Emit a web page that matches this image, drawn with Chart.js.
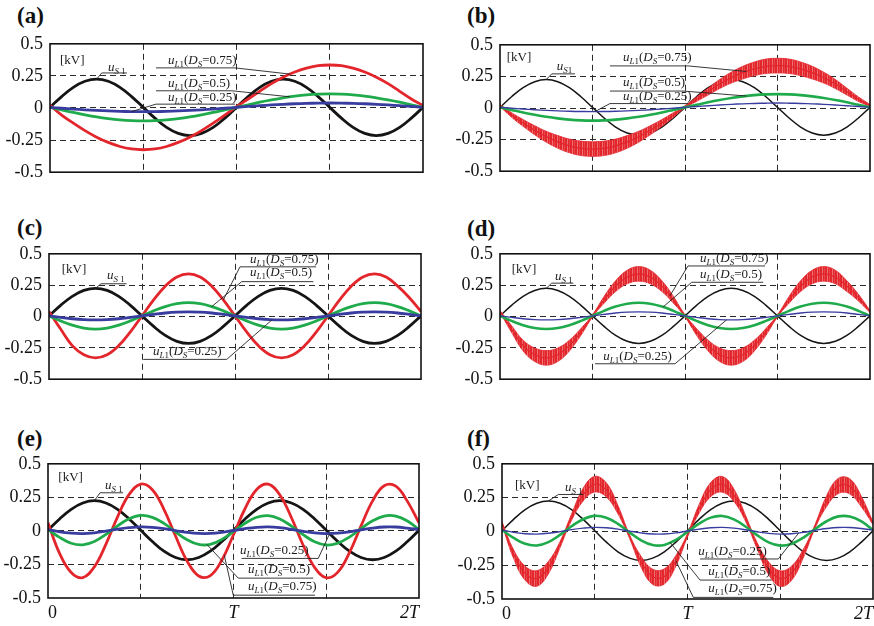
<!DOCTYPE html>
<html>
<head>
<meta charset="utf-8">
<script src="https://cdn.jsdelivr.net/npm/chart.js@4.4.0/dist/chart.umd.min.js"></script>
<style>
html, body { margin: 0; padding: 0; background: #fff; width: 874px; height: 626px; overflow: hidden; position: relative; }
canvas { position: absolute; }
.plabel { position: absolute; font: bold 23px "Liberation Serif", "Times New Roman", serif; line-height: 23px; color: #111; }
</style>
</head>
<body>
<div class="plabel" style="left:17px;top:4px">(a)</div>
<div class="plabel" style="left:467px;top:4px">(b)</div>
<div class="plabel" style="left:17px;top:216px">(c)</div>
<div class="plabel" style="left:467px;top:217px">(d)</div>
<div class="plabel" style="left:17px;top:427px">(e)</div>
<div class="plabel" style="left:467px;top:427px">(f)</div>

<script>
// time axis in steps of T/16, 0 .. 2T
const tK = [0,1,2,3,4,5,6,7,8,9,10,11,12,13,14,15,16,17,18,19,20,21,22,23,24,25,26,27,28,29,30,31,32];
const xTickValues = [0, 8, 16, 24, 32];
const xTickLabels = ['0', '', 'T', '', '2T'];
const yTickValues = [-0.5, -0.25, 0, 0.25, 0.5];
const yTickLabels = ['-0.5', '-0.25', '0', '0.25', '0.5'];

// source voltage u_S1 [kV], same in every panel
const uS1 = [.005,.089,.161,.208,.225,.208,.161,.089,.005,-.079,-.151,-.198,-.215,-.198,-.151,-.079,
             .005,.089,.161,.208,.225,.208,.161,.089,.005,-.079,-.151,-.198,-.215,-.198,-.151,-.079,.005];

// (a),(b): load voltage at half the source frequency
const redA   = [.02,-.055,-.118,-.176,-.227,-.268,-.300,-.319,-.325,-.319,-.300,-.268,-.227,-.176,-.118,-.055,.01,
                .07,.13,.19,.24,.28,.31,.33,.335,.33,.31,.28,.24,.19,.13,.07,.02];
const greenA = [.005,-.015,-.035,-.053,-.069,-.082,-.092,-.098,-.100,-.098,-.092,-.082,-.069,-.053,-.035,-.015,.005,
                .025,.045,.063,.079,.092,.102,.108,.110,.108,.102,.092,.079,.063,.045,.025,.005];
const blueA  = [.005,-.002,-.008,-.014,-.019,-.023,-.026,-.028,-.029,-.028,-.026,-.023,-.019,-.014,-.008,-.002,.005,
                .012,.018,.024,.029,.033,.036,.038,.039,.038,.036,.033,.029,.024,.018,.012,.005];
const rippleA = [.008,.018,.027,.036,.043,.050,.054,.057,.058,.057,.054,.050,.043,.036,.027,.018,.008,
                 .018,.027,.036,.043,.050,.054,.057,.058,.057,.054,.050,.043,.036,.027,.018,.008];

// (c),(d): load voltage at the source frequency
const redC   = [.04,-.10,-.232,-.305,-.330,-.305,-.232,-.123,.005,.133,.242,.315,.340,.315,.242,.133,.005,
                -.123,-.232,-.305,-.330,-.305,-.232,-.123,.005,.133,.242,.315,.340,.315,.242,.15,.04];
const greenC = [.005,-.035,-.069,-.092,-.100,-.092,-.069,-.035,.005,.045,.079,.102,.110,.102,.079,.045,.005,
                -.035,-.069,-.092,-.100,-.092,-.069,-.035,.005,.045,.079,.102,.110,.102,.079,.045,.005];
const blueC  = [.005,-.007,-.018,-.025,-.027,-.025,-.018,-.007,.005,.017,.028,.035,.037,.035,.028,.017,.005,
                -.007,-.018,-.025,-.027,-.025,-.018,-.007,.005,.017,.028,.035,.037,.035,.028,.017,.005];
const rippleC = [.008,.027,.043,.054,.058,.054,.043,.027,.008,.027,.043,.054,.058,.054,.043,.027,.008,
                 .027,.043,.054,.058,.054,.043,.027,.008,.027,.043,.054,.058,.054,.043,.027,.008];

// (e),(f): load voltage at 1.5x the source frequency
const redE   = [.06,-.168,-.310,-.348,-.268,-.099,.105,.272,.349,.307,.161,-.038,-.225,-.336,-.333,-.217,-.029,
                .167,.309,.348,.268,.098,-.105,-.273,-.349,-.307,-.162,.037,.224,.336,.333,.220,.06];
const greenE = [.01,-.048,-.092,-.104,-.079,-.026,.038,.090,.115,.101,.056,-.007,-.066,-.101,-.100,-.063,-.004,
                .057,.102,.114,.089,.036,-.028,-.081,-.105,-.091,-.046,.017,.075,.111,.110,.074,.01];
const blueE  = [.01,-.007,-.017,-.020,-.014,-.002,.013,.024,.030,.027,.017,.002,-.011,-.019,-.019,-.011,.003,
                .017,.027,.030,.024,.012,-.003,-.015,-.020,-.017,-.007,.008,.021,.029,.029,.021,.01];
const rippleE = [.01,.032,.052,.058,.046,.022,.023,.047,.058,.052,.031,.013,.040,.056,.056,.039,.012,
                 .032,.052,.058,.046,.022,.023,.047,.058,.052,.031,.013,.040,.056,.056,.039,.01];

const RED = '#e3262c', GREEN = '#1fab4b', BLUE = '#383c9e', BLACK = '#151515';
const SERIF = '"Liberation Serif", "Times New Roman", serif';

// label text pieces: [text, style] where style i=italic, s=subscript, si=italic subscript
const KV = [['[kV]', '']];
const US1 = [['u', 'i'], ['S', 'si'], [' 1', 's']];
const US1b = [['u', 'i'], ['S', 'si'], ['1', 's']];
function UL(d) { return [['u', 'i'], ['L', 'si'], ['1', 's'], ['(', ''], ['D', 'i'], ['S', 'si'], ['=' + d + ')', '']]; }

// annotation layout (data coords): text at x,y; underline [k1,k2,v]; leader from L/R end to a curve at k
const notesA = [
    {segs: KV, x: .86, y: .34},
    {segs: US1, x: 4.98, y: .288, line: [4.44, 6.6, .273], lead: ['L', 'black', 4]},
    {segs: UL('0.75'), x: 10.12, y: .342, line: [9.09, 15.87, .3125], lead: ['R', 'red', 20.6]},
    {segs: UL('0.5'), x: 10.12, y: .162, line: [9.09, 15.61, .134], lead: ['R', 'green', 20.6]},
    {segs: UL('0.25'), x: 10.12, y: .053, line: [9.09, 15.87, .030], lead: ['L', 'blue', 7]},
];
const notesB = [
    {segs: KV, x: .58, y: .37},
    {segs: US1b, x: 4.9, y: .30, line: [4.47, 6.49, .27], lead: ['L', 'black', 4]},
    {segs: UL('0.75'), x: 10.64, y: .375, line: [9.51, 16.26, .333], lead: ['R', 'red', 21.3]},
    {segs: UL('0.5'), x: 10.64, y: .176, line: [9.51, 15.83, .134], lead: ['R', 'green', 21.3]},
    {segs: UL('0.25'), x: 10.64, y: .062, line: [9.51, 16.26, .035], lead: ['L', 'blue', 8.2]},
];
const notesC = [
    {segs: KV, x: 1.09, y: .348},
    {segs: US1, x: 4.99, y: .30, line: [4.47, 6.68, .261], lead: ['L', 'black', 4]},
    {segs: UL('0.75'), x: 17.29, y: .427, line: [16.43, 22.97, .396], lead: ['L', 'red', 15]},
    {segs: UL('0.5'), x: 17.29, y: .32, line: [16.58, 22.74, .278], lead: ['L', 'green', 14]},
    {segs: UL('0.25'), x: 8.95, y: -.306, line: [8.11, 15.29, -.342], lead: ['R', 'blue', 19.2]},
];
const notesD = [
    {segs: KV, x: 1.01, y: .348},
    {segs: US1, x: 4.76, y: .294, line: [4.47, 6.34, .266], lead: ['L', 'black', 4]},
    {segs: UL('0.75'), x: 17.3, y: .436, line: [16.26, 22.92, .403], lead: ['L', 'red', 14.7]},
    {segs: UL('0.5'), x: 17.3, y: .309, line: [16.58, 22.77, .273], lead: ['L', 'green', 14.1]},
    {segs: UL('0.25'), x: 8.93, y: -.344, line: [8.22, 15.14, -.377], lead: ['R', 'blue', 19.6]},
];
const notesE = [
    {segs: KV, x: .89, y: .371},
    {segs: US1, x: 4.92, y: .311, line: [4.49, 6.47, .284], lead: ['L', 'black', 4]},
    {segs: UL('0.25'), x: 16.56, y: -.171, line: [16.7, 23.31, -.205], lead: ['R', 'blue', 24.3]},
    {segs: UL('0.5'), x: 17.25, y: -.314, line: [16.41, 22.88, -.352], lead: ['L', 'green', 13.7]},
    {segs: UL('0.75'), x: 17.25, y: -.443, line: [15.98, 23.03, -.479], lead: ['L', 'red', 15.2]},
];
const notesF = [
    {segs: KV, x: 1.12, y: .312},
    {segs: US1, x: 5.43, y: .301, line: [4.86, 7.01, .273], lead: ['L', 'black', 4]},
    {segs: UL('0.25'), x: 16.93, y: -.176, line: [17.08, 23.83, -.204], lead: ['R', 'blue', 25.6]},
    {segs: UL('0.5'), x: 17.79, y: -.323, line: [17.08, 23.26, -.36], lead: ['L', 'green', 14.5]},
    {segs: UL('0.75'), x: 17.79, y: -.45, line: [16.5, 23.4, -.488], lead: ['L', 'red', 15]},
];

const famA = {black: uS1, red: redA, green: greenA, blue: blueA, ripple: rippleA};
const famC = {black: uS1, red: redC, green: greenC, blue: blueC, ripple: rippleC};
const famE = {black: uS1, red: redE, green: greenE, blue: blueE, ripple: rippleE};

// plot boxes on the page: [left, top, right, bottom]
const panels = [
    {box: [50, 38, 423, 182], fam: famA, noisy: false, xt: false, notes: notesA},
    {box: [500, 39, 870, 181], fam: famA, noisy: true, xt: false, notes: notesB},
    {box: [49, 248, 421, 389], fam: famC, noisy: false, xt: false, notes: notesC},
    {box: [500, 248, 870, 389], fam: famC, noisy: true, xt: false, notes: notesD},
    {box: [48, 458, 419, 598], fam: famE, noisy: false, xt: true, notes: notesE},
    {box: [502, 458, 873, 599], fam: famE, noisy: true, xt: true, notes: notesF},
];

// dense striped fill for the switching ripple band
function ripplePattern() {
    let pc = document.createElement('canvas');
    pc.width = 5; pc.height = 1;
    let c = pc.getContext('2d');
    c.fillStyle = RED; c.fillRect(0, 0, 5, 1);
    c.fillStyle = 'rgba(255,255,255,0.35)'; c.fillRect(2, 0, 1, 1);
    c.fillStyle = 'rgba(255,255,255,0.15)'; c.fillRect(4, 0, 1, 1);
    return c.createPattern(pc, 'repeat');
}

function pts(arr) {
    return tK.map((k, i) => ({x: k, y: arr[i]}));
}

function lineDs(arr, color, w) {
    return {data: pts(arr), borderColor: color, borderWidth: w, pointRadius: 0, tension: 0.4, fill: false};
}

function interp(arr, k) {
    let i = Math.floor(k);
    let f = k - i;
    let j = Math.min(i + 1, arr.length - 1);
    return arr[i] * (1 - f) + arr[j] * f;
}

function drawRich(ctx, segs, x, y) {
    for (let i = 0; i < segs.length; i++) {
        let txt = segs[i][0], st = segs[i][1];
        let sub = st.indexOf('s') >= 0;
        let ital = st.indexOf('i') >= 0;
        ctx.font = (ital ? 'italic ' : '') + (sub ? '9px ' : '13px ') + SERIF;
        ctx.fillText(txt, x, sub ? y + 3 : y);
        x += ctx.measureText(txt).width;
    }
    return x;
}

// box frame + text labels with leader lines
function notesPlugin(panel) {
    return {
        id: 'notes',
        afterDatasetsDraw(chart) {
            let ctx = chart.ctx;
            let a = chart.chartArea;
            let xs = chart.scales.x, ys = chart.scales.y;
            ctx.save();
            ctx.strokeStyle = '#111';
            ctx.lineWidth = 1.6;
            ctx.strokeRect(a.left, a.top, a.right - a.left, a.bottom - a.top);
            ctx.fillStyle = '#1a1a1a';
            ctx.textBaseline = 'alphabetic';
            ctx.textAlign = 'left';
            panel.notes.forEach(function(n) {
                drawRich(ctx, n.segs, xs.getPixelForValue(n.x), ys.getPixelForValue(n.y));
                if (n.line) {
                    let x1 = xs.getPixelForValue(n.line[0]);
                    let x2 = xs.getPixelForValue(n.line[1]);
                    let yl = ys.getPixelForValue(n.line[2]);
                    let arr = panel.fam[n.lead[1]];
                    let xe = xs.getPixelForValue(n.lead[2]);
                    let ye = ys.getPixelForValue(interp(arr, n.lead[2]));
                    let xs0 = n.lead[0] == 'L' ? x1 : x2;
                    ctx.strokeStyle = '#222';
                    ctx.lineWidth = 0.9;
                    ctx.beginPath();
                    ctx.moveTo(x1, yl); ctx.lineTo(x2, yl);
                    ctx.moveTo(xs0, yl); ctx.lineTo(xe, ye);
                    ctx.stroke();
                }
            });
            ctx.restore();
        }
    };
}

const PAD_T = 12, PAD_R = 16, YW = 50;

panels.forEach(function(p) {
    let l = p.box[0], t = p.box[1], r = p.box[2], b = p.box[3];
    let xh = p.xt ? 30 : 0;
    let padB = p.xt ? 0 : 8;
    let cv = document.createElement('canvas');
    let w = (r - l) + YW + PAD_R;
    let h = (b - t) + PAD_T + xh + padB;
    cv.width = w; cv.height = h;
    cv.style.left = (l - YW) + 'px';
    cv.style.top = (t - PAD_T) + 'px';
    cv.style.width = w + 'px';
    cv.style.height = h + 'px';
    document.body.appendChild(cv);

    let f = p.fam;
    let datasets;
    if (p.noisy) {
        let hi = f.red.map((v, i) => v + f.ripple[i]);
        let lo = f.red.map((v, i) => v - f.ripple[i]);
        datasets = [
            lineDs(f.blue, BLUE, 1.4),
            lineDs(f.green, GREEN, 2.6),
            lineDs(f.red, RED, 1.2),
            Object.assign(lineDs(hi, RED, 0.8), {fill: '+1', backgroundColor: ripplePattern()}),
            lineDs(lo, RED, 0.8),
            lineDs(f.black, BLACK, 1.5),
        ];
    } else {
        datasets = [
            lineDs(f.blue, BLUE, 2.8),
            lineDs(f.green, GREEN, 2.8),
            lineDs(f.red, RED, 2.8),
            lineDs(f.black, BLACK, 2.8),
        ];
    }

    new Chart(cv, {
        type: 'line',
        data: {datasets: datasets},
        options: {
            responsive: false,
            animation: false,
            events: [],
            layout: {padding: {left: 0, top: PAD_T, right: PAD_R, bottom: padB}},
            plugins: {legend: {display: false}, tooltip: {enabled: false}},
            scales: {
                x: {
                    type: 'linear', min: 0, max: 32,
                    afterBuildTicks: (s) => { s.ticks = xTickValues.map(v => ({value: v})); },
                    afterFit: (s) => { s.height = xh; },
                    grid: {
                        drawTicks: false, lineWidth: 1,
                        color: (c) => (c.tick && c.tick.value > 0 && c.tick.value < 32) ? '#2a2a2a' : 'rgba(0,0,0,0)',
                    },
                    border: {display: false, dash: [6, 4]},
                    ticks: {
                        display: p.xt, autoSkip: false, maxRotation: 0, padding: 4, align: 'inner', color: '#111',
                        font: (c) => ({family: SERIF, size: 18, style: (c.tick && c.tick.value > 0) ? 'italic' : 'normal'}),
                        callback: (v) => xTickLabels[xTickValues.indexOf(v)],
                    },
                },
                y: {
                    min: -0.5, max: 0.5,
                    afterBuildTicks: (s) => { s.ticks = yTickValues.map(v => ({value: v})); },
                    afterFit: (s) => { s.width = YW; },
                    grid: {
                        drawTicks: false, lineWidth: 1,
                        color: (c) => (c.tick && Math.abs(c.tick.value) < 0.4) ? '#2a2a2a' : 'rgba(0,0,0,0)',
                    },
                    border: {display: false, dash: [6, 4]},
                    ticks: {
                        padding: 7, color: '#111', font: {family: SERIF, size: 18},
                        callback: (v) => yTickLabels[yTickValues.indexOf(v)],
                    },
                },
            },
        },
        plugins: [notesPlugin(p)],
    });
});
</script>
</body>
</html>
